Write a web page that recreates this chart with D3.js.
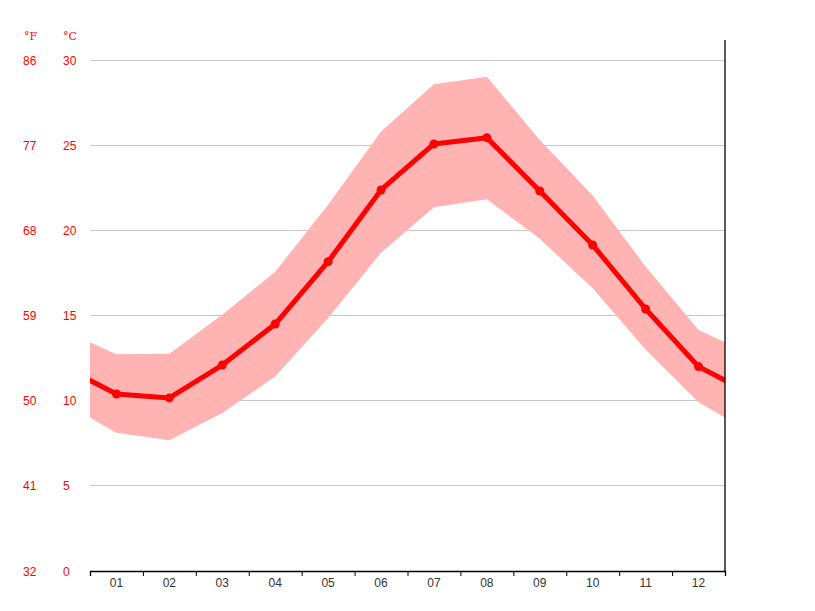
<!DOCTYPE html>
<html><head><meta charset="utf-8">
<script src="https://cdn.jsdelivr.net/npm/d3@7"></script>
<style>body{margin:0;background:#fff}svg{display:block}</style>
</head><body>
<svg id="c" width="815" height="611"></svg>
<script>
const months = ["01","02","03","04","05","06","07","08","09","10","11","12"];
const meanTemp = [10.39,10.16,12.09,14.5,18.16,22.37,25.07,25.44,22.31,19.14,15.38,12.0];
const maxTemp  = [12.72,12.76,15.05,17.57,21.5,25.8,28.57,29.02,25.3,22.05,17.87,14.15];
const minTemp  = [8.12,7.67,9.27,11.42,14.85,18.69,21.35,21.82,19.5,16.6,13.0,9.9];
const celsiusTicks = [0,5,10,15,20,25,30];
const fahrenheitTicks = ["32","41","50","59","68","77","86"];

const svg = d3.select("#c");
const padL = 90, padR = 725, padT = 60, padB = 571;
const x = d3.scaleLinear().domain([0,12]).range([padL,padR]);
const y = d3.scaleLinear().domain([0,30]).range([padB,padT]);

function wrap(arr){
  const pts = [{m:-0.5,v:arr[11]}];
  arr.forEach((v,i)=>pts.push({m:i+0.5,v}));
  pts.push({m:12.5,v:arr[0]});
  return pts;
}
svg.append("defs").append("clipPath").attr("id","pc")
  .append("rect").attr("x",padL).attr("y",0).attr("width",padR-padL).attr("height",padB);

svg.append("g").selectAll("line").data(celsiusTicks.filter(d=>d>0)).join("line")
  .attr("x1",padL).attr("x2",padR).attr("y1",d=>y(d)).attr("y2",d=>y(d))
  .attr("stroke","#c8c8c8").attr("stroke-width",1).attr("shape-rendering","crispEdges");

const g = svg.append("g").attr("clip-path","url(#pc)");
const lo = wrap(minTemp);
const bandData = wrap(maxTemp).map((d,i)=>({m:d.m,hi:d.v,lo:lo[i].v}));
g.append("path").datum(bandData)
  .attr("d", d3.area().x(d=>x(d.m)).y0(d=>y(d.lo)).y1(d=>y(d.hi)))
  .attr("fill","#ffb3b3");
g.append("path").datum(wrap(meanTemp))
  .attr("d", d3.line().x(d=>x(d.m)).y(d=>y(d.v)))
  .attr("fill","none").attr("stroke","#ff0000").attr("stroke-width",5).attr("stroke-linejoin","round");
g.selectAll("circle").data(meanTemp).join("circle")
  .attr("cx",(d,i)=>x(i+0.5)).attr("cy",d=>y(d)).attr("r",4.5).attr("fill","#ff0000");

const xa = svg.append("g").attr("transform",`translate(0,${padB})`)
  .call(d3.axisBottom(x).tickValues(d3.range(0,13)).tickSize(5).tickFormat(""));
xa.select(".domain").attr("stroke","#000").attr("stroke-width",1.3);
xa.selectAll(".tick line").attr("stroke","#000");
svg.append("g").selectAll("text").data(months).join("text")
  .attr("x",(d,i)=>x(i+0.5)).attr("y",587).attr("text-anchor","middle")
  .attr("font-family","Liberation Sans, Arial, sans-serif").attr("font-size",12).attr("fill","#333").text(d=>d);

svg.append("line").attr("x1",padR).attr("x2",padR).attr("y1",40).attr("y2",padB)
  .attr("stroke","#000").attr("stroke-width",1.3);

const yl = svg.append("g").attr("font-family","Liberation Sans, Arial, sans-serif").attr("font-size",12).attr("fill","#ff0000");
yl.selectAll("text.c").data(celsiusTicks).join("text").attr("class","c")
  .attr("x",63).attr("y",d=>y(d)+4.5).text(d=>d);
yl.selectAll("text.f").data(fahrenheitTicks).join("text").attr("class","f")
  .attr("x",23).attr("y",(d,i)=>y(celsiusTicks[i])+4.5).text(d=>d);
svg.append("text").attr("x",24).attr("y",39.5).attr("font-family","DejaVu Serif, serif").attr("font-size",11).attr("fill","#ff0000").text("°F");
svg.append("text").attr("x",63).attr("y",39.5).attr("font-family","DejaVu Serif, serif").attr("font-size",11).attr("fill","#ff0000").text("°C");
</script>
</body></html>
